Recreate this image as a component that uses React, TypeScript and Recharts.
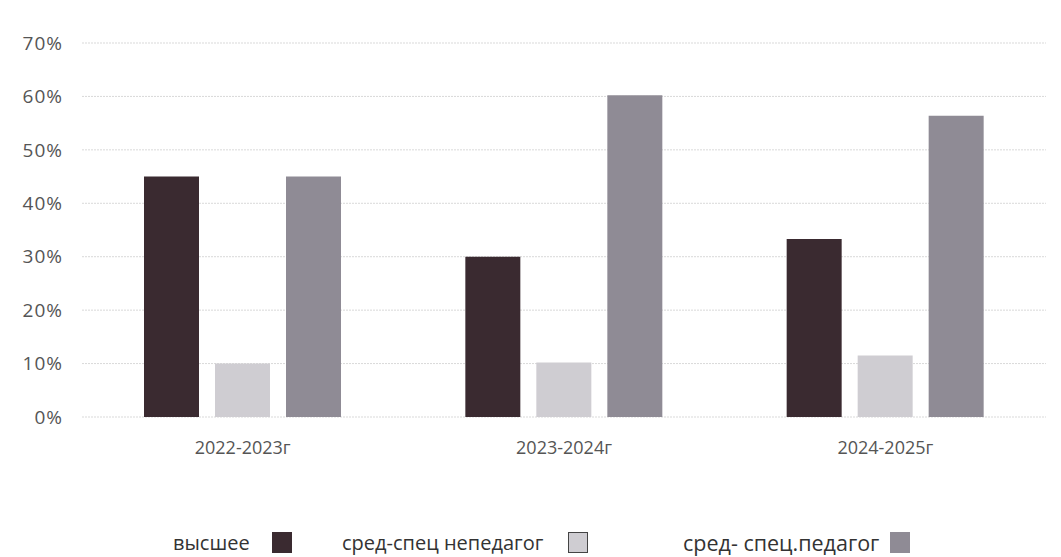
import React from "react";
import { BarChart, Bar, XAxis, YAxis, CartesianGrid } from "recharts";

const categories = ["2022-2023г", "2023-2024г", "2024-2025г"];
const higher = [45, 30, 33.3];
const secNonPed = [10, 10.2, 11.5];
const secPed = [45, 60.2, 56.4];
const yTicks = [0, 10, 20, 30, 40, 50, 60, 70];
const seriesNames = ["высшее", "сред-спец непедагог", "сред- спец.педагог"];
const colors = ["#3a2a30", "#cfcdd2", "#8f8b95"];

const data = categories.map((c, i) => ({
  name: c,
  a: higher[i],
  b: secNonPed[i],
  c: secPed[i],
}));

const FONT = "'Open Sans', sans-serif";

export default function App() {
  return (
    <div style={{ position: "absolute", left: 0, top: 0, width: 1061, height: 557, background: "#fff", fontFamily: FONT }}>
      <BarChart
        width={1061}
        height={557}
        data={data}
        margin={{ top: 43, right: 15, left: 0, bottom: 110 }}
        barCategoryGap={62}
        barGap={16}
      >
        <CartesianGrid vertical={false} stroke="#d9d9d9" strokeDasharray="2 1" />
        <XAxis
          dataKey="name"
          axisLine={false}
          tickLine={false}
          height={30}
          tickMargin={18}
          tick={{ fill: "#555", fontSize: 18, fontFamily: FONT }}
        />
        <YAxis
          width={82}
          domain={[0, 70]}
          ticks={yTicks}
          axisLine={false}
          tickLine={false}
          tickMargin={13}
          tickFormatter={(v: number) => `${v}%`}
          tick={{ fill: "#555", fontSize: 19, fontFamily: FONT, letterSpacing: 1 }}
        />
        <Bar dataKey="a" fill={colors[0]} isAnimationActive={false} />
        <Bar dataKey="b" fill={colors[1]} isAnimationActive={false} />
        <Bar dataKey="c" fill={colors[2]} isAnimationActive={false} />
      </BarChart>
      {[
        { x: 173, sq: 272, fs: 20 },
        { x: 342, sq: 568, fs: 20 },
        { x: 683, sq: 890, fs: 21.5 },
      ].map((p, i) => (
        <React.Fragment key={i}>
          <div
            style={{
              position: "absolute",
              left: p.x,
              top: 529,
              fontSize: p.fs,
              color: "#333",
              whiteSpace: "nowrap",
              lineHeight: "28px",
            }}
          >
            {seriesNames[i]}
          </div>
          <div
            style={{
              position: "absolute",
              left: p.sq,
              top: 532,
              width: 20,
              height: 21,
              background: colors[i],
              border: i === 1 ? "1.5px solid #444" : "none",
              boxSizing: "border-box",
            }}
          />
        </React.Fragment>
      ))}
    </div>
  );
}
